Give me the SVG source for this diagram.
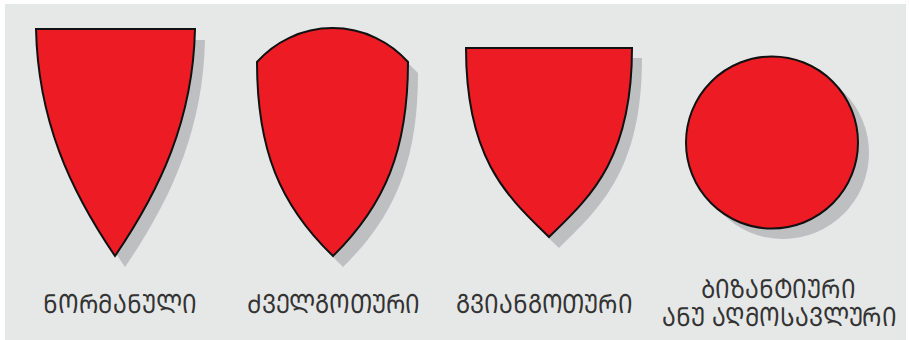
<svg xmlns="http://www.w3.org/2000/svg" width="909" height="340" viewBox="0 0 909 340">
<style>
.shield{fill:#ed1c24;stroke:#111;stroke-width:2;stroke-linejoin:miter}
.shadow{fill:#bdbfc1}
.lbl{font-family:"DejaVu Sans","Noto Sans",sans-serif;font-size:23px;fill:#333;text-anchor:middle}
</style>
<rect x="0" y="0" width="909" height="340" fill="#ffffff"/>
<rect x="5" y="4" width="901" height="336" fill="#e6e7e7"/>
<g id="norman">
<path class="shadow" d="M46,40 L205,40 C203,131 170,201 125,267 C80,201 48,131 46,40 Z"/>
<path class="shield" d="M36,29 L195,29 C193,120 160,190 115,256 C70,190 38,120 36,29 Z"/>
<text class="lbl" transform="translate(120,313) scale(1,1.15)">ᲜᲝᲠᲛᲐᲜᲣᲚᲘ</text>
</g>
<g id="oldgothic">
<path class="shadow" d="M267,73 A101,101 0 0 1 418,73 C418,161 395,216 343,267 C290,216 267,161 267,73 Z"/>
<path class="shield" d="M257,62 A101,101 0 0 1 408,62 C408,150 385,205 333,256 C280,205 257,150 257,62 Z"/>
<text class="lbl" transform="translate(333.5,313) scale(1,1.15)">ᲫᲕᲔᲚᲒᲝᲗᲣᲠᲘ</text>
</g>
<g id="lategothic">
<path class="shadow" d="M476,58 L642,58 C642,170 600,208 559,248 C518,208 476,170 476,58 Z"/>
<path class="shield" d="M466,48 L632,48 C632,160 590,197 549,237 C508,197 466,160 466,48 Z"/>
<text class="lbl" transform="translate(544.5,313) scale(1,1.15)">ᲒᲕᲘᲐᲜᲒᲝᲗᲣᲠᲘ</text>
</g>
<g id="byzantine">
<circle class="shadow" cx="783" cy="153" r="86"/>
<circle class="shield" cx="772" cy="142.5" r="86"/>
<text class="lbl" transform="translate(778,298) scale(1,1.15)">ᲑᲘᲖᲐᲜᲢᲘᲣᲠᲘ</text>
<text class="lbl" transform="translate(779.5,326) scale(1,1.15)">ᲐᲜᲣ ᲐᲦᲛᲝᲡᲐᲕᲚᲣᲠᲘ</text>
</g>
</svg>
